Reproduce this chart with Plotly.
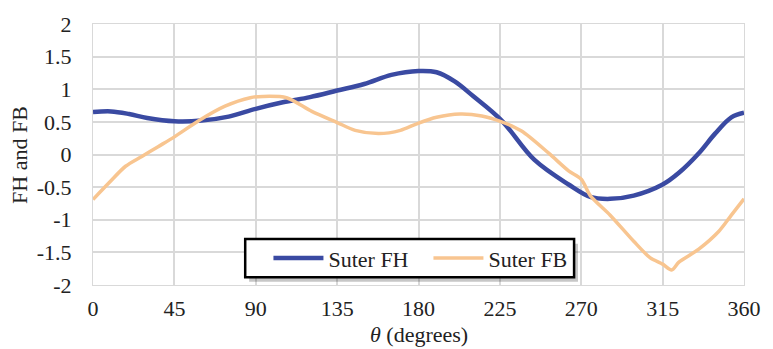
import plotly.graph_objects as go

theta_fh = [0, 10, 20, 30, 45, 60, 75, 90, 105, 120, 135, 150, 165, 180, 190, 200, 210, 226,
            244, 263, 275, 286, 299, 315, 324, 335, 344, 353, 360]
fh = [0.65, 0.66, 0.62, 0.56, 0.51, 0.52, 0.58, 0.70, 0.80, 0.88, 0.98, 1.08, 1.22, 1.28, 1.26,
      1.12, 0.90, 0.52, -0.08, -0.46, -0.65, -0.68, -0.63, -0.46, -0.28, 0.02, 0.32, 0.57, 0.64]

theta_fb = [0, 9, 18, 27, 36, 45, 58, 73, 87, 94, 107, 121, 135, 145, 158, 170, 179, 190, 203,
            215, 226, 237, 252, 263, 270, 275, 286, 299, 308, 315, 320, 324, 335, 346, 353, 360]
fb = [-0.69, -0.43, -0.18, -0.03, 0.12, 0.27, 0.51, 0.74, 0.87, 0.89, 0.87, 0.66, 0.49, 0.37,
      0.32, 0.37, 0.47, 0.57, 0.62, 0.59, 0.50, 0.36, 0.02, -0.25, -0.38, -0.63, -0.93, -1.33,
      -1.58, -1.68, -1.77, -1.65, -1.45, -1.18, -0.93, -0.68]

x_ticks = [0, 45, 90, 135, 180, 225, 270, 315, 360]
y_ticks = [-2, -1.5, -1, -0.5, 0, 0.5, 1, 1.5, 2]
y_labels = ["-2", "-1.5", "-1", "-0.5", "0", "0.5", "1", "1.5", "2"]

font = "Liberation Serif, Times New Roman, serif"
fs = 22

fig = go.Figure()
fig.add_trace(go.Scatter(x=theta_fh, y=fh, mode="lines", name="Suter FH",
                         line=dict(color="#3A4AA2", width=4.5, shape="spline", smoothing=1.0)))
fig.add_trace(go.Scatter(x=theta_fb, y=fb, mode="lines", name="Suter FB",
                         line=dict(color="#F8C590", width=3.5, shape="spline", smoothing=0.8)))

# legend frame (shadow + bordered white box)
fig.add_shape(type="rect", xref="paper", yref="paper",
              x0=0.2398, x1=0.745, y0=0.012, y1=0.158,
              fillcolor="rgba(0,0,0,0.22)", line=dict(width=0), layer="above")
fig.add_shape(type="rect", xref="paper", yref="paper",
              x0=0.2338, x1=0.739, y0=0.030, y1=0.176,
              fillcolor="white", line=dict(color="black", width=2.5), layer="above")

fig.add_annotation(text="<i>θ</i> (degrees)", xref="paper", yref="paper",
                   x=0.5, y=-0.19, xanchor="center", yanchor="middle",
                   showarrow=False, font=dict(family=font, size=fs, color="#222"))
fig.add_annotation(text="FH and FB", xref="paper", yref="paper", textangle=-90,
                   x=-0.113, y=0.5, xanchor="center", yanchor="middle",
                   showarrow=False, font=dict(family=font, size=fs, color="#222"))

fig.update_layout(
    width=773, height=349,
    margin=dict(l=93, r=17, t=18, b=64),
    paper_bgcolor="white", plot_bgcolor="white",
    font=dict(family=font, size=fs, color="#222"),
    showlegend=True,
    legend=dict(orientation="h", x=0.2695, xanchor="left", y=0.103, yanchor="middle",
                bgcolor="rgba(0,0,0,0)", borderwidth=0,
                font=dict(family=font, size=fs, color="#222"),
                itemwidth=50, entrywidth=95, tracegroupgap=0),
    xaxis=dict(range=[0, 360], tickvals=x_ticks, showgrid=True, gridcolor="#d9d9d9",
               gridwidth=1.5, zeroline=False, showline=True, linecolor="#d9d9d9", mirror=True,
               ticks="", tickfont=dict(size=fs), ticklabelstandoff=4),
    yaxis=dict(range=[-2, 2], tickvals=y_ticks, ticktext=y_labels,
               showgrid=True, gridcolor="#d9d9d9", gridwidth=1.5, zeroline=False,
               showline=True, linecolor="#d9d9d9", mirror=True, ticks="",
               tickfont=dict(size=fs), ticklabelstandoff=16),
)

fig.write_html("out.html")
